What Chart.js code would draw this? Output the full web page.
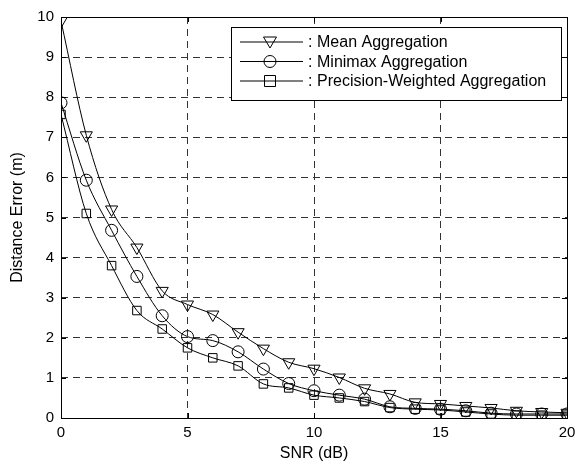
<!doctype html>
<html>
<head>
  <meta charset="utf-8" />
  <title>Distance Error vs SNR</title>
  <style>
    html, body { margin: 0; padding: 0; background: #fff; }
    .wrap { width: 575px; height: 464px; }
  </style>
</head>
<body>
  <div class="wrap"><canvas id="chart" width="575" height="464"></canvas></div>

  <script src="https://cdn.jsdelivr.net/npm/chart.js@4.4.1/dist/chart.umd.min.js"></script>
  <script>
    // values
    const snr = [0, 1, 2, 3, 4, 5, 6, 7, 8, 9, 10, 11, 12, 13, 14, 15, 16, 17, 18, 19, 20];
    const meanAgg = [9.9, 7.05, 5.2, 4.25, 3.17, 2.83, 2.58, 2.14, 1.73, 1.39, 1.23, 1.01, 0.74, 0.6, 0.39, 0.35, 0.3, 0.25, 0.18, 0.15, 0.13];
    const minimaxAgg = [7.86, 5.93, 4.68, 3.53, 2.55, 2.03, 1.93, 1.65, 1.22, 0.86, 0.68, 0.57, 0.47, 0.28, 0.24, 0.22, 0.18, 0.12, 0.1, 0.1, 0.1];
    const precisionAgg = [7.57, 5.1, 3.8, 2.68, 2.22, 1.75, 1.5, 1.3, 0.85, 0.75, 0.57, 0.5, 0.41, 0.26, 0.22, 0.2, 0.15, 0.1, 0.07, 0.07, 0.07];
    const seriesNames = ['Mean Aggregation', 'Minimax Aggregation', 'Precision-Weighted Aggregation'];
    const xTicks = [0, 5, 10, 15, 20];
    const yTicks = [0, 1, 2, 3, 4, 5, 6, 7, 8, 9, 10];

    const FONT = '"Liberation Sans", Arial, Helvetica, sans-serif';

    function marker(ctx, style, x, y) {
      ctx.beginPath();
      if (style === 'tri') {
        ctx.moveTo(x - 6.5, y - 5);
        ctx.lineTo(x + 6.5, y - 5);
        ctx.lineTo(x, y + 6);
        ctx.closePath();
      } else if (style === 'circle') {
        ctx.arc(x, y, 6, 0, Math.PI * 2);
      } else {
        ctx.rect(x - 5.5, y - 5.5, 11, 11);
      }
      ctx.stroke();
    }

    const styles = ['tri', 'circle', 'rect'];

    // frame, inward ticks and the boxed legend (matlab look)
    const framePlugin = {
      id: 'frame',
      afterDatasetsDraw(chart) {
        const { ctx, chartArea: a, scales } = chart;
        ctx.save();
        ctx.strokeStyle = '#000';
        ctx.lineWidth = 1;
        ctx.setLineDash([]);
        ctx.strokeRect(Math.round(a.left) + 0.5, Math.round(a.top) + 0.5,
          Math.round(a.right - a.left), Math.round(a.bottom - a.top));
        ctx.beginPath();
        for (const v of xTicks) {
          const px = Math.round(scales.x.getPixelForValue(v)) + 0.5;
          ctx.moveTo(px, a.bottom); ctx.lineTo(px, a.bottom - 5);
          ctx.moveTo(px, a.top); ctx.lineTo(px, a.top + 5);
        }
        for (const v of yTicks) {
          const py = Math.round(scales.y.getPixelForValue(v)) + 0.5;
          ctx.moveTo(a.left, py); ctx.lineTo(a.left + 5, py);
          ctx.moveTo(a.right, py); ctx.lineTo(a.right - 5, py);
        }
        ctx.stroke();

        // legend box
        const bx = 231.5, by = 27.5, bw = 330, bh = 73;
        ctx.fillStyle = '#fff';
        ctx.fillRect(bx, by, bw, bh);
        ctx.strokeRect(bx, by, bw, bh);
        ctx.font = '16px ' + FONT;
        ctx.textBaseline = 'middle';
        ctx.fillStyle = '#000';
        seriesNames.forEach((name, i) => {
          const y = 42 + i * 19.5;
          ctx.beginPath();
          ctx.moveTo(240, y); ctx.lineTo(303, y);
          ctx.stroke();
          marker(ctx, styles[i], 270, y);
          ctx.fillText(':', 308, y + 1);
          ctx.fillText(name, 317, y + 1);
        });
        ctx.restore();
      }
    };

    const pointStyles = ['triangle', 'circle', 'rect'];
    const pointRot = [180, 0, 0];
    const pointRad = [7, 6, 6];
    const allData = [meanAgg, minimaxAgg, precisionAgg];

    const datasets = allData.map((vals, i) => ({
      label: seriesNames[i],
      data: snr.map((x, j) => ({ x, y: vals[j] })),
      borderColor: '#000',
      borderWidth: 1,
      pointStyle: pointStyles[i],
      pointRotation: pointRot[i],
      pointRadius: pointRad[i],
      pointBorderColor: '#000',
      pointBorderWidth: 1,
      pointBackgroundColor: 'rgba(0,0,0,0)',
      cubicInterpolationMode: 'monotone',
      fill: false
    }));

    new Chart(document.getElementById('chart').getContext('2d'), {
      type: 'line',
      data: { datasets },
      options: {
        animation: false,
        responsive: false,
        devicePixelRatio: 1,
        layout: { padding: { top: 17, right: 8, left: 0, bottom: 0 } },
        plugins: { legend: { display: false }, tooltip: { enabled: false } },
        scales: {
          x: {
            type: 'linear',
            min: 0, max: 20,
            afterBuildTicks(s) { s.ticks = xTicks.map(v => ({ value: v })); },
            afterFit(s) { s.height = 46; s.paddingLeft = 0; s.paddingRight = 0; },
            ticks: { color: '#000', padding: 6, maxRotation: 0, font: { family: FONT, size: 15 } },
            grid: { color: '#333', lineWidth: 1, drawTicks: false },
            border: { display: false, dash: [7, 5] },
            title: { display: true, text: 'SNR (dB)', color: '#000', padding: { top: 0, bottom: 1 }, font: { family: FONT, size: 16 } }
          },
          y: {
            min: 0, max: 10,
            afterBuildTicks(s) { s.ticks = yTicks.map(v => ({ value: v })); },
            afterFit(s) { s.width = 61; s.paddingTop = 0; s.paddingBottom = 0; },
            ticks: { color: '#000', padding: 7, font: { family: FONT, size: 15 } },
            grid: { color: '#333', lineWidth: 1, drawTicks: false },
            border: { display: false, dash: [7, 5] },
            title: { display: true, text: 'Distance Error (m)', color: '#000', padding: { top: 8, bottom: 0 }, font: { family: FONT, size: 16 } }
          }
        }
      },
      plugins: [framePlugin]
    });
  </script>
</body>
</html>
